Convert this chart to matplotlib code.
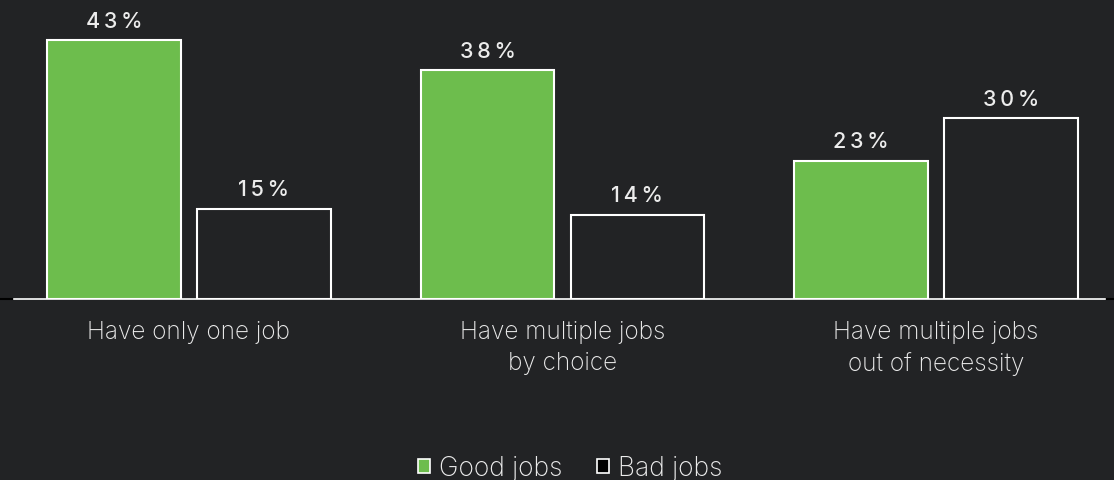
import numpy as np
import matplotlib.pyplot as plt
from matplotlib.patches import Patch

# data
categories = ["Have only one job", "Have multiple jobs\nby choice", "Have multiple jobs\nout of necessity"]
good_jobs = [43, 38, 23]
bad_jobs = [15, 14, 30]
series_names = ["Good jobs", "Bad jobs"]

BG = "#222325"
GREEN = "#6dbd4d"
TEXT = "#ececec"

plt.rcParams['font.family'] = ['Inter', 'DejaVu Sans']

fig = plt.figure(figsize=(11.14, 4.81), dpi=100, facecolor=BG)
ax = fig.add_axes([14 / 1114, 181 / 481, 1091 / 1114, 300 / 481])
ax.set_facecolor(BG)

x = np.arange(len(categories))
w = 0.358
off = 0.2005
b1 = ax.bar(x - off, good_jobs, w, color=GREEN, edgecolor="white", linewidth=1.5)
b2 = ax.bar(x + off, bad_jobs, w, color=BG, edgecolor="white", linewidth=1.5)

ax.set_xlim(-0.468, 2.452)
ax.set_ylim(0, 300 / 6.02)

# value labels, letterspaced
for bars, vals in [(b1, good_jobs), (b2, bad_jobs)]:
    for r, v in zip(bars, vals):
        s = "\u2009".join(f"{v}%")
        ax.text(r.get_x() + r.get_width() / 2, v + 1.6, s, ha="center", va="bottom",
                color=TEXT, fontsize=15.5, fontweight="medium")

for s in ["top", "right", "left"]:
    ax.spines[s].set_visible(False)
ax.spines["bottom"].set_color("white")
ax.spines["bottom"].set_linewidth(1.2)

ax.set_xticks(x)
ax.set_xticklabels(categories, color=TEXT, fontsize=17.5, fontweight="light", linespacing=1.45)
ax.tick_params(axis="x", length=0, pad=15)
ax.set_yticks([0])
ax.set_yticklabels([])
ax.tick_params(axis="y", left=True, right=True, length=10, width=1.5, color="black", direction="out")

handles = [Patch(facecolor=GREEN, edgecolor="white", linewidth=1.2),
           Patch(facecolor="black", edgecolor="white", linewidth=1.2)]
leg = fig.legend(handles, series_names, loc="center", bbox_to_anchor=(0.512, 1 - 469 / 481),
                 ncol=2, frameon=False, prop={"size": 19, "weight": "light"},
                 handlelength=0.45, handleheight=0.45,
                 handletextpad=0.35, columnspacing=1.3, labelcolor=TEXT)

fig.savefig("out.png", dpi=100, facecolor=BG)
